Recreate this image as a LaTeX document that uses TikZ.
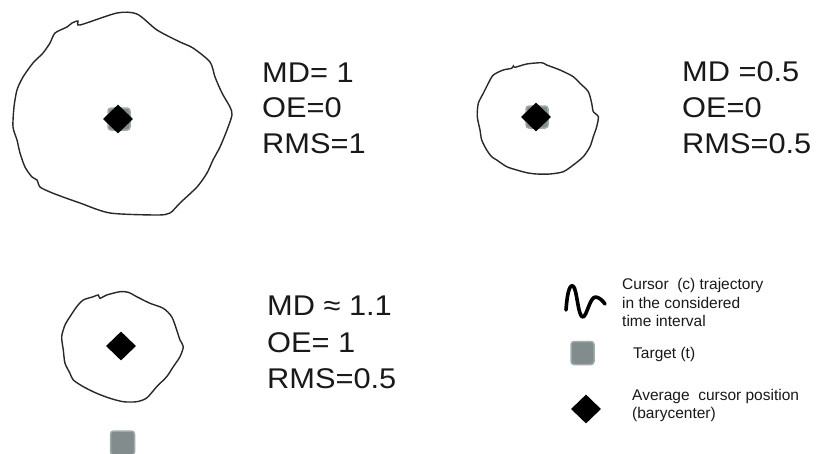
\documentclass[tikz,border=0pt]{standalone}
\usepackage{fontspec}
\setmainfont{Liberation Sans}
\newfontfamily\bigfont[FakeStretch=1.08]{Liberation Sans}
\usetikzlibrary{shapes.geometric}
\definecolor{tgtfill}{RGB}{130,140,140}
\definecolor{tgtedge}{RGB}{160,172,172}
\definecolor{ink}{RGB}{25,25,25}
\definecolor{blobline}{RGB}{40,40,40}
\tikzset{
  blob/.style={draw=blobline, line width=1.4pt},
  bary/.style={diamond, fill=black, draw=none, inner sep=0pt, minimum width=30pt, minimum height=29pt},
  target/.style={rectangle, rounded corners=3pt, fill=tgtfill, draw=tgtedge, line width=1.5pt, inner sep=0pt, minimum width=22pt, minimum height=22pt},
  bigtxt/.style={anchor=base west, inner sep=0pt, text=ink, font=\bigfont\fontsize{28.5}{34}\selectfont},
  legtxt/.style={anchor=base west, inner sep=0pt, text=ink, font=\fontsize{15.5}{18}\selectfont},
}
\begin{document}
\begin{tikzpicture}[x=1pt,y=-1pt]
\useasboundingbox (0,0) rectangle (817,453);
\fill[white] (0,0) rectangle (817,453);

% ---- blob 1 (top-left)
\draw[blob] plot[smooth cycle, tension=0.45] coordinates {
(80,25) (117,13) (137,14) (157,30) (180,42) (193,48) (210,62) (215,77) (222,93) (230,107) (232,115)
(227,130) (220,147) (213,160) (207,173) (197,187) (180,203) (170,213) (157,215) (110,213)
(80,203) (63,197) (50,192) (40,187) (37,180) (32,177) (25,167) (20,153) (17,140) (13,127)
(14,107) (17,90) (23,77) (33,63) (43,53) (50,43) (55,33) (67,27) (72,23) (78,21)};
\node[target] (t1) at (119,119) {};
\node[bary] (b1) at (118,119) {};

% ---- blob 2 (top-right)
\draw[blob] plot[smooth cycle, tension=0.45] coordinates {
(493.3,75) (503.3,70) (511.7,68.3) (513.3,66) (515,67.3) (526.7,64) (541.7,62.7) (546.7,65)
(560,70) (573.3,76.7) (580,83.3) (588.3,91.7) (591.7,103.3) (593.3,111.7) (598.3,116.7)
(596.7,126.7) (593.3,136.7) (590,146.7) (583.3,156.7) (573.3,165) (563.3,171.7) (550,174)
(536.7,174) (526.7,172.7) (516.7,170) (506.7,166.7) (496.7,160) (491.7,156.7) (486.7,150)
(481.7,140) (480,130) (477.3,116.7) (478.3,103.3) (483.3,93.3) (488.3,83.3)};
\node[target] (t2) at (537,117) {};
\node[bary] (b2) at (536,117) {};

% ---- blob 3 (bottom-left)
\draw[blob] plot[smooth cycle, tension=0.45] coordinates {
(83.3,300) (93.3,296.7) (98.3,295) (100,298.3) (106.7,295) (120,291.7) (128.3,292.3)
(136.7,296.7) (150,303.3) (163.3,308.3) (171.7,316.7) (176.7,330) (180,340) (183.3,346.7)
(180,356.7) (173.3,366.7) (166.7,376.7) (156.7,386.7) (146.7,398) (136.7,401.7) (123.3,401.7)
(110,398.3) (96.7,393.3) (83.3,386.7) (73.3,380) (70,373.3) (65,363.3) (63.3,350)
(61.7,336.7) (65,325) (70,316.7) (76.7,306.7)};
\node[bary] (b3) at (121,346) {};
\node[target, minimum width=24pt, minimum height=24pt] (t3) at (122.5,443) {};

% ---- metric texts
\node[bigtxt] (md1) at (262,82) {MD= 1};
\node[bigtxt] (oe1) at (262,117) {OE=0};
\node[bigtxt] (rms1) at (262,153) {RMS=1};

\node[bigtxt] (md2) at (682,81) {MD =0.5};
\node[bigtxt] (oe2) at (682,117) {OE=0};
\node[bigtxt] (rms2) at (682,153) {RMS=0.5};

\node[bigtxt] (md3) at (267,315) {MD ≈ 1.1};
\node[bigtxt] (oe3) at (267,352) {OE= 1};
\node[bigtxt] (rms3) at (267,388) {RMS=0.5};

% ---- legend
\draw[line width=3.6pt, line cap=round, line join=round, black]
  (566,310) .. controls (567,296) and (569,284) .. (573,286)
  .. controls (577,288) and (578,318) .. (583,317)
  .. controls (587,316) and (590,296) .. (596,297)
  .. controls (600,298) and (603,301) .. (605,304);
\node[legtxt] (l1) at (622,289) {Cursor\ \ (c) trajectory};
\node[legtxt] (l2) at (622,308) {in the considered};
\node[legtxt] (l3) at (622,326) {time interval};

\node[target, minimum width=23pt, minimum height=23pt] (lt) at (582.5,353) {};
\node[legtxt] (l4) at (633,358) {Target (t)};

\node[bary] (lb) at (586,409) {};
\node[legtxt] (l5) at (632,400) {Average\ \ cursor position};
\node[legtxt] (l6) at (632,418) {(barycenter)};
\end{tikzpicture}
\end{document}
